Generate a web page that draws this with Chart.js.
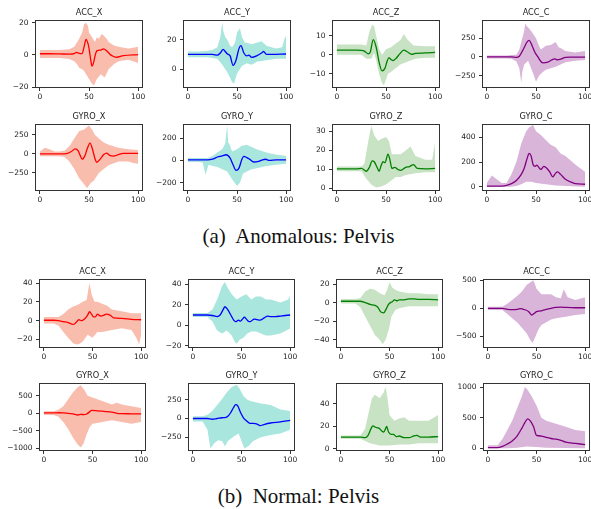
<!DOCTYPE html>
<html><head><meta charset="utf-8">
<script src="https://cdn.jsdelivr.net/npm/chart.js@4.4.0/dist/chart.umd.min.js"></script>
<style>
body{margin:0;background:#fff;}
#fig{position:relative;width:591px;height:509px;background:#fff;overflow:hidden;}
.cap{position:absolute;left:3px;width:591px;text-align:center;font-family:'Liberation Serif','Times New Roman',serif;font-size:21px;line-height:21px;color:#111;white-space:pre;}
canvas{position:absolute;}
</style></head><body><div id="fig">
<div class="cap" style="top:226px">(a)  Anomalous: Pelvis</div>
<div class="cap" style="top:486px">(b)  Normal: Pelvis</div>
</div>
<script>
// ---------- labels / ticks ----------
const TITLES = ['ACC_X','ACC_Y','ACC_Z','ACC_C','GYRO_X','GYRO_Y','GYRO_Z','GYRO_C'];
const X_TICKS = [0,50,100];
const A_Y_TICKS = [[-20,0,20],[0,20],[-10,0,10],[-250,0,250],[-250,0,250],[-200,0,200],[0,10,20,30],[0,200,400]];
const B_Y_TICKS = [[-20,0,20,40],[-20,0,20,40],[-40,-20,0,20],[-500,0,500],[-1000,-500,0,500],[-250,0,250],[0,20,40],[0,500,1000]];
const A_Y_RANGE = [[-20.6,21.7],[-13,33.6],[-17.5,18.4],[-414,493],[-487,391],[-275,326],[-1.4,33.9],[-35,509]];
const B_Y_RANGE = [[-29,44.3],[-22,44.9],[-49,25.5],[-711,525],[-1078,865],[-433,473],[-1.8,58.4],[-44,1066]];

// ---------- (a) Anomalous ----------
const A_ACC_X_MEAN = [[0,0.7],[10,0.7],[20,0.6],[30,0.5],[35,0.8],[37,1.5],[40,1],[43,0.8],[45,5],[47,9.7],[49,7],[50,4],[52,-4],[53,-7],[55,-4],[56,-1],[58,2.5],[62,3],[65,3.8],[68,2.5],[72,0],[75,-1],[78,-1.5],[85,-0.5],[100,0.2]];
const A_ACC_X_HI = [[0,3],[10,3],[20,3],[30,3.5],[35,5],[38,8],[40,10],[43,14],[45,19],[47,20],[49,18],[50,14],[52,12],[54,10],[56,8],[58,11],[60,10],[63,13],[65,12],[68,10],[70,8],[75,6],[80,5],[90,4],[95,4.5],[100,5]];
const A_ACC_X_LO = [[0,-2],[10,-2],[20,-2],[30,-2.5],[35,-4],[38,-6],[40,-8],[43,-9],[45,-10],[48,-13],[50,-15],[53,-18],[55,-19],[58,-15],[62,-12],[66,-14],[70,-9],[75,-6],[80,-4],[90,-3],[95,-4],[100,-5]];

const A_ACC_Y_MEAN = [[0,10],[10,10],[20,10],[25,10],[30,9.5],[33,11],[36,13.5],[38,12],[40,10.5],[43,9],[46,2.5],[49,6],[52,14],[54,16],[57,11],[60,9],[62,9.5],[65,8],[70,9],[75,11],[77,12],[80,10],[85,10],[100,10.3]];
const A_ACC_Y_HI = [[0,12],[10,12],[20,12.5],[25,13],[30,15],[33,22],[35,32],[36,26],[38,22],[40,20],[43,16],[45,15],[48,18],[50,25],[53,28],[55,22],[58,18],[60,18],[65,17],[70,18],[75,19],[80,16],[85,15],[90,14],[96,15],[98,20],[100,23]];
const A_ACC_Y_LO = [[0,8],[10,8],[20,8],[25,7.5],[30,7],[35,3],[40,-2],[43,-6],[45,-9],[47,-10],[50,-3],[55,2],[60,4],[65,3],[70,5],[80,6],[90,7],[100,7]];

const A_ACC_Z_MEAN = [[0,2.5],[10,2.5],[20,2.5],[25,2.4],[28,2],[32,0.5],[34,1.5],[37,8],[40,4],[43,-4],[46,-8.5],[49,-7],[51,-3.5],[53,-1.5],[55,-2.5],[57,-3],[60,-2],[64,0.5],[68,2.5],[72,1.5],[76,0.3],[80,0.8],[90,1],[100,1.3]];
const A_ACC_Z_HI = [[0,5.5],[10,5.5],[20,5.5],[25,5.5],[30,5],[33,12],[36,16],[38,15],[40,10],[43,3],[46,0],[50,3],[55,4],[60,6],[65,8],[68,11],[72,8],[78,5],[90,4.5],[100,4.5]];
const A_ACC_Z_LO = [[0,0],[10,0],[20,0],[25,0],[30,-2],[35,-2],[38,1],[40,-3],[43,-10],[46,-15],[48,-16],[52,-10],[55,-9],[60,-7],[65,-5],[70,-4],[75,-3],[80,-2],[90,-1.5],[100,-1.5]];

const A_ACC_C_MEAN = [[0,0],[10,0],[20,0],[25,0],[30,-5],[33,10],[37,100],[41,200],[43,220],[46,150],[49,60],[52,0],[55,-60],[57,-80],[62,-70],[66,-40],[69,-25],[72,-40],[76,-25],[80,-5],[85,-3],[100,-3]];
const A_ACC_C_HI = [[0,20],[10,20],[20,20],[25,25],[30,30],[33,100],[35,200],[38,350],[39,450],[40,420],[43,380],[46,330],[50,250],[53,150],[55,100],[60,150],[65,160],[70,200],[73,130],[75,120],[80,80],[90,60],[100,80]];
const A_ACC_C_LO = [[0,-20],[10,-20],[20,-20],[25,-25],[30,-60],[33,-150],[35,-340],[36,-200],[38,-100],[42,-50],[45,-150],[48,-250],[50,-330],[53,-250],[57,-200],[60,-170],[65,-150],[70,-130],[75,-100],[80,-70],[90,-50],[100,-40]];

const A_GYRO_X_MEAN = [[0,0],[10,0],[20,0],[25,0],[28,5],[32,30],[36,65],[39,40],[41,-20],[43,-70],[46,-20],[48,60],[51,140],[54,40],[56,-60],[58,-110],[62,-60],[65,-10],[68,10],[71,-20],[75,-30],[80,-10],[85,5],[100,5]];
const A_GYRO_X_HI = [[0,30],[5,80],[10,60],[15,30],[20,30],[25,40],[30,100],[35,200],[40,300],[45,320],[50,370],[53,320],[56,250],[60,200],[65,150],[70,120],[75,100],[80,80],[90,60],[100,50]];
const A_GYRO_X_LO = [[0,-30],[10,-30],[20,-30],[25,-40],[30,-100],[35,-200],[40,-320],[45,-400],[48,-450],[52,-380],[55,-350],[60,-250],[65,-200],[70,-150],[80,-100],[90,-100],[95,-120],[100,-130]];

const A_GYRO_Y_MEAN = [[0,5],[10,5],[20,5],[25,10],[30,30],[35,40],[39,50],[43,20],[46,-40],[49,-90],[52,-70],[55,10],[57,35],[60,25],[63,10],[67,-15],[72,-10],[76,5],[79,10],[83,0],[90,5],[100,5]];
const A_GYRO_Y_HI = [[0,20],[10,20],[20,20],[25,40],[30,70],[35,100],[38,150],[40,320],[41,160],[42,150],[45,80],[50,100],[55,130],[60,140],[65,120],[70,100],[80,70],[90,50],[100,40]];
const A_GYRO_Y_LO = [[0,-15],[10,-15],[15,-20],[18,-130],[21,-40],[25,-50],[30,-60],[35,-80],[40,-100],[45,-170],[50,-230],[53,-200],[56,-120],[60,-100],[65,-80],[70,-70],[80,-50],[90,-40],[100,-30]];

const A_GYRO_Z_MEAN = [[0,10.3],[10,10.3],[20,10.3],[25,10.5],[30,9],[33,11],[36,14.5],[38,14],[41,11],[43,9],[45,12],[47,14],[49,13.5],[52,18],[54,15],[56,10.5],[59,11],[62,10],[65,9.5],[70,11],[74,11.5],[78,12.5],[82,10.5],[90,10.3],[100,10.5]];
const A_GYRO_Z_HI = [[0,11.5],[10,11.5],[20,11.5],[25,11.5],[28,13],[32,25],[35,33],[38,28],[42,25],[45,26],[50,27],[53,25],[56,18],[60,18],[65,18],[70,20],[75,22],[80,17],[90,15],[97,15],[100,24]];
const A_GYRO_Z_LO = [[0,9],[10,9],[20,9],[25,9],[30,5],[35,2],[40,0.5],[45,1],[50,2],[55,4],[60,6],[65,6],[70,7],[80,8],[90,8.5],[100,8.5]];

const A_GYRO_C_MEAN = [[0,5],[10,5],[15,5],[20,10],[25,25],[30,50],[35,100],[38,150],[41,230],[43,270],[45,250],[47,180],[49,165],[51,175],[53,155],[55,140],[58,165],[61,150],[64,120],[67,80],[70,110],[72,120],[75,100],[80,60],[85,40],[90,25],[100,20]];
const A_GYRO_C_HI = [[0,30],[5,90],[10,60],[15,30],[20,30],[25,100],[30,200],[35,350],[40,450],[43,480],[47,500],[50,450],[55,420],[60,380],[65,340],[70,320],[75,270],[80,250],[90,180],[100,120]];
const A_GYRO_C_LO = [[0,0],[25,0],[30,5],[35,20],[40,40],[45,40],[50,30],[60,20],[70,10],[80,5],[100,0]];

// ---------- (b) Normal ----------
const B_ACC_X_MEAN = [[0,0.5],[10,0.5],[15,0],[20,-1],[25,-2],[30,-4],[33,-2],[36,1],[39,0],[42,2],[45,6],[47,9.5],[49,7],[51,4],[53,4],[55,7],[58,5],[62,6],[64,7],[68,6],[72,3],[80,2.5],[90,1.5],[100,1]];
const B_ACC_X_HI = [[0,4],[10,4],[15,4],[20,7],[25,12],[30,15],[35,17],[40,20],[44,22],[46,35],[47,40],[49,28],[52,20],[55,20],[60,18],[65,16],[70,12],[80,10],[90,8],[100,8]];
const B_ACC_X_LO = [[0,-3],[10,-3],[15,-5],[20,-12],[25,-18],[30,-24],[33,-25],[36,-25],[40,-22],[45,-15],[50,-18],[55,-12],[60,-12],[70,-10],[80,-8],[90,-10],[95,-18],[98,-25],[100,-15]];

const B_ACC_Y_MEAN = [[0,10],[10,10],[15,10],[20,9.5],[25,8.5],[28,10],[31,15],[33,18],[36,15],[39,10],[42,5],[44,3.5],[47,5],[49,4],[51,6],[53,8],[55,6],[57,4],[59,3.5],[63,6],[66,5.5],[69,5],[73,7],[77,9],[80,8.5],[85,8.5],[90,9],[100,10]];
const B_ACC_Y_HI = [[0,12],[10,12],[15,12],[20,15],[25,25],[30,38],[33,42],[36,36],[40,30],[45,25],[50,28],[55,30],[60,25],[65,28],[70,28],[75,25],[80,25],[90,22],[98,25],[100,29]];
const B_ACC_Y_LO = [[0,8],[10,8],[15,8],[20,4],[25,-5],[30,-8],[35,-5],[40,-10],[43,-16],[45,-18],[48,-14],[52,-12],[56,-8],[60,-6],[65,-6],[70,-8],[75,-10],[80,-10],[90,-8],[100,-3]];

const B_ACC_Z_MEAN = [[0,1.5],[10,1.5],[20,1.5],[25,0],[30,-2],[35,-3],[38,-5],[41,-10],[44,-11],[47,-6],[49,-2],[51,0],[53,1],[55,3],[58,2],[60,3],[65,3],[70,4],[75,4],[80,3.5],[90,3.5],[100,3]];
const B_ACC_Z_HI = [[0,4],[10,4],[15,4],[20,5],[25,12],[30,15],[35,14],[40,10],[45,8],[48,15],[50,22],[53,16],[56,14],[60,12],[70,10],[80,10],[90,9],[100,9]];
const B_ACC_Z_LO = [[0,-1],[10,-1],[15,-1],[20,-5],[25,-15],[30,-25],[35,-35],[40,-40],[43,-45],[46,-40],[49,-30],[52,-15],[56,-8],[60,-6],[70,-4],[80,-4],[90,-4],[100,-4]];

const B_ACC_C_MEAN = [[0,0],[10,0],[15,0],[20,-20],[25,-25],[30,-20],[33,-5],[36,-15],[39,-30],[42,-60],[45,-120],[47,-100],[50,-60],[53,-50],[56,-40],[60,-20],[65,0],[70,15],[75,20],[80,15],[90,10],[100,10]];
const B_ACC_C_HI = [[0,30],[10,30],[15,30],[20,80],[25,150],[30,220],[35,300],[40,420],[45,480],[47,500],[50,350],[55,250],[60,250],[65,250],[70,200],[75,180],[78,340],[82,200],[90,150],[100,200]];
const B_ACC_C_LO = [[0,-30],[10,-30],[15,-30],[20,-100],[25,-180],[30,-250],[35,-350],[40,-450],[43,-550],[46,-620],[49,-500],[52,-380],[55,-300],[60,-250],[65,-200],[70,-180],[80,-150],[90,-120],[100,-100]];

const B_GYRO_X_MEAN = [[0,10],[10,10],[15,15],[20,10],[25,0],[30,-20],[35,-50],[38,-30],[41,-40],[44,-20],[47,40],[49,80],[55,70],[60,60],[65,50],[70,30],[75,0],[80,-10],[90,-15],[100,-20]];
const B_GYRO_X_HI = [[0,60],[10,60],[15,100],[20,200],[25,400],[30,600],[35,750],[38,800],[42,650],[45,500],[50,450],[55,400],[60,350],[65,300],[70,250],[75,300],[80,250],[90,200],[100,150]];
const B_GYRO_X_LO = [[0,-50],[10,-50],[15,-100],[20,-250],[25,-450],[30,-700],[35,-900],[38,-980],[41,-850],[44,-600],[47,-400],[50,-300],[55,-280],[60,-250],[70,-200],[80,-250],[90,-300],[100,-250]];

const B_GYRO_Y_MEAN = [[0,0],[10,0],[15,0],[20,-10],[25,0],[30,10],[34,15],[36,30],[39,80],[42,150],[44,185],[46,170],[49,80],[52,10],[55,-30],[58,-60],[62,-65],[66,-75],[69,-95],[73,-80],[80,-60],[90,-45],[100,-25]];
const B_GYRO_Y_HI = [[0,30],[10,30],[15,50],[20,100],[25,180],[30,260],[35,350],[40,420],[45,450],[48,400],[52,300],[56,250],[60,230],[70,200],[80,180],[90,120],[100,100]];
const B_GYRO_Y_LO = [[0,-40],[10,-40],[15,-150],[18,-400],[22,-330],[26,-290],[30,-300],[33,-370],[36,-300],[42,-240],[47,-200],[50,-300],[53,-400],[57,-370],[62,-300],[70,-250],[80,-220],[90,-200],[100,-150]];

const B_GYRO_Z_MEAN = [[0,10.5],[10,10.5],[20,10.5],[25,10],[28,12],[31,18],[33,20.5],[36,19],[39,18.5],[42,16],[44,15],[46,18],[47,20],[49,15],[52,13],[54,13],[57,11],[60,11.5],[65,10],[70,10],[75,11.5],[78,12],[82,10.5],[90,10.5],[100,11]];
const B_GYRO_Z_HI = [[0,12],[10,12],[20,12],[25,18],[28,30],[32,45],[35,48],[40,45],[44,50],[46,55],[48,45],[50,30],[55,25],[60,27],[65,28],[70,25],[80,25],[90,25],[100,30]];
const B_GYRO_Z_LO = [[0,9],[10,9],[20,9],[25,7],[30,5],[40,3],[50,3],[60,4],[70,4],[80,5],[90,5],[100,5]];

const B_GYRO_C_MEAN = [[0,10],[10,10],[15,30],[20,70],[25,120],[30,200],[35,330],[38,420],[41,480],[44,440],[47,350],[50,210],[55,200],[60,180],[65,160],[70,150],[75,130],[80,100],[90,80],[100,60]];
const B_GYRO_C_HI = [[0,50],[10,50],[15,150],[20,300],[25,450],[30,650],[35,850],[38,1000],[41,950],[45,850],[50,700],[55,500],[60,450],[70,400],[80,350],[90,300],[100,280]];
const B_GYRO_C_LO = [[0,0],[20,0],[30,10],[40,30],[50,20],[60,10],[80,5],[100,0]];

const A_SERIES = [
  [A_ACC_X_MEAN,A_ACC_X_HI,A_ACC_X_LO],[A_ACC_Y_MEAN,A_ACC_Y_HI,A_ACC_Y_LO],
  [A_ACC_Z_MEAN,A_ACC_Z_HI,A_ACC_Z_LO],[A_ACC_C_MEAN,A_ACC_C_HI,A_ACC_C_LO],
  [A_GYRO_X_MEAN,A_GYRO_X_HI,A_GYRO_X_LO],[A_GYRO_Y_MEAN,A_GYRO_Y_HI,A_GYRO_Y_LO],
  [A_GYRO_Z_MEAN,A_GYRO_Z_HI,A_GYRO_Z_LO],[A_GYRO_C_MEAN,A_GYRO_C_HI,A_GYRO_C_LO]];
const B_SERIES = [
  [B_ACC_X_MEAN,B_ACC_X_HI,B_ACC_X_LO],[B_ACC_Y_MEAN,B_ACC_Y_HI,B_ACC_Y_LO],
  [B_ACC_Z_MEAN,B_ACC_Z_HI,B_ACC_Z_LO],[B_ACC_C_MEAN,B_ACC_C_HI,B_ACC_C_LO],
  [B_GYRO_X_MEAN,B_GYRO_X_HI,B_GYRO_X_LO],[B_GYRO_Y_MEAN,B_GYRO_Y_HI,B_GYRO_Y_LO],
  [B_GYRO_Z_MEAN,B_GYRO_Z_HI,B_GYRO_Z_LO],[B_GYRO_C_MEAN,B_GYRO_C_HI,B_GYRO_C_LO]];

// ---------- styles & layout ----------
const LINE_COLORS = ['#ff0000','#0000ff','#008000','#800080'];
const BAND_COLORS = ['#f9bdae','#a9e6dd','#c8e2c4','#d9b5d9'];
const A_COL_LEFT = [35,183,332,482], A_BOX_W = 108;
const B_COL_LEFT = [39,188,336,483], B_BOX_W = 107;
const ROW_TOP = [20,124,279,383], ROW_H = [68,67,69,68];
const YW = 34, TH = 14, XH = 16, RP = 8;
const INK = '#333';

const fmt = v => String(v).replace('-', '\u2212');
const frame = {
  id:'frame',
  afterDraw(chart){
    const a = chart.chartArea, c = chart.ctx;
    c.save(); c.strokeStyle = INK; c.lineWidth = 1;
    c.strokeRect(Math.round(a.left)+0.5, Math.round(a.top)+0.5, Math.round(a.right-a.left)-1, Math.round(a.bottom-a.top)-1);
    c.restore();
  }
};

const fig = document.getElementById('fig');
function panel(series, idx, yTicks, yRange, left, boxW, top, boxH){
  const col = idx % 4;
  const cv = document.createElement('canvas');
  const W = YW + boxW + RP, H = TH + boxH + XH;
  cv.width = W; cv.height = H;
  cv.style.left = (left - YW) + 'px'; cv.style.top = (top - TH) + 'px';
  cv.style.width = W + 'px'; cv.style.height = H + 'px';
  fig.appendChild(cv);
  const tickFont = {family:'DejaVu Sans', size:7.5};
  const gridOpt = {drawOnChartArea:false, drawTicks:true, tickLength:3, color:INK, lineWidth:1};
  new Chart(cv, {
    type:'line',
    data:{datasets:[
      {data:series[0], borderColor:LINE_COLORS[col], borderWidth:1.3, pointRadius:0, fill:false, cubicInterpolationMode:'monotone'},
      {data:series[1], borderWidth:0, borderColor:'rgba(0,0,0,0)', pointRadius:0, fill:'+1', backgroundColor:BAND_COLORS[col], tension:0},
      {data:series[2], borderWidth:0, borderColor:'rgba(0,0,0,0)', pointRadius:0, fill:false, tension:0}
    ]},
    options:{
      responsive:false, animation:false, devicePixelRatio:1,
      layout:{padding:{top:0,left:0,right:RP,bottom:0}},
      plugins:{legend:{display:false}, tooltip:{enabled:false},
        title:{display:true, fullSize:false, align:'center', text:TITLES[idx], color:'#222', font:{family:'DejaVu Sans', size:8.2, weight:'normal', lineHeight:'11px'}, padding:{top:1,bottom:2}}},
      scales:{
        x:{type:'linear', min:-5, max:105,
          afterFit:s=>{s.height = XH;},
          afterBuildTicks:s=>{s.ticks = X_TICKS.map(v=>({value:v}));},
          grid:gridOpt, border:{display:false},
          ticks:{font:tickFont, color:'#222', padding:1.5, maxRotation:0, autoSkip:false, callback:fmt}},
        y:{type:'linear', min:yRange[0], max:yRange[1],
          afterFit:s=>{s.width = YW;},
          afterBuildTicks:s=>{s.ticks = yTicks.map(v=>({value:v}));},
          grid:gridOpt, border:{display:false},
          ticks:{font:tickFont, color:'#222', padding:3.5, autoSkip:false, callback:fmt}}
      }
    },
    plugins:[frame]
  });
}
for (let i = 0; i < 8; i++) {
  const r = Math.floor(i/4), c = i % 4;
  panel(A_SERIES[i], i, A_Y_TICKS[i], A_Y_RANGE[i], A_COL_LEFT[c], A_BOX_W, ROW_TOP[r], ROW_H[r]);
  panel(B_SERIES[i], i, B_Y_TICKS[i], B_Y_RANGE[i], B_COL_LEFT[c], B_BOX_W, ROW_TOP[r+2], ROW_H[r+2]);
}
</script></body></html>
